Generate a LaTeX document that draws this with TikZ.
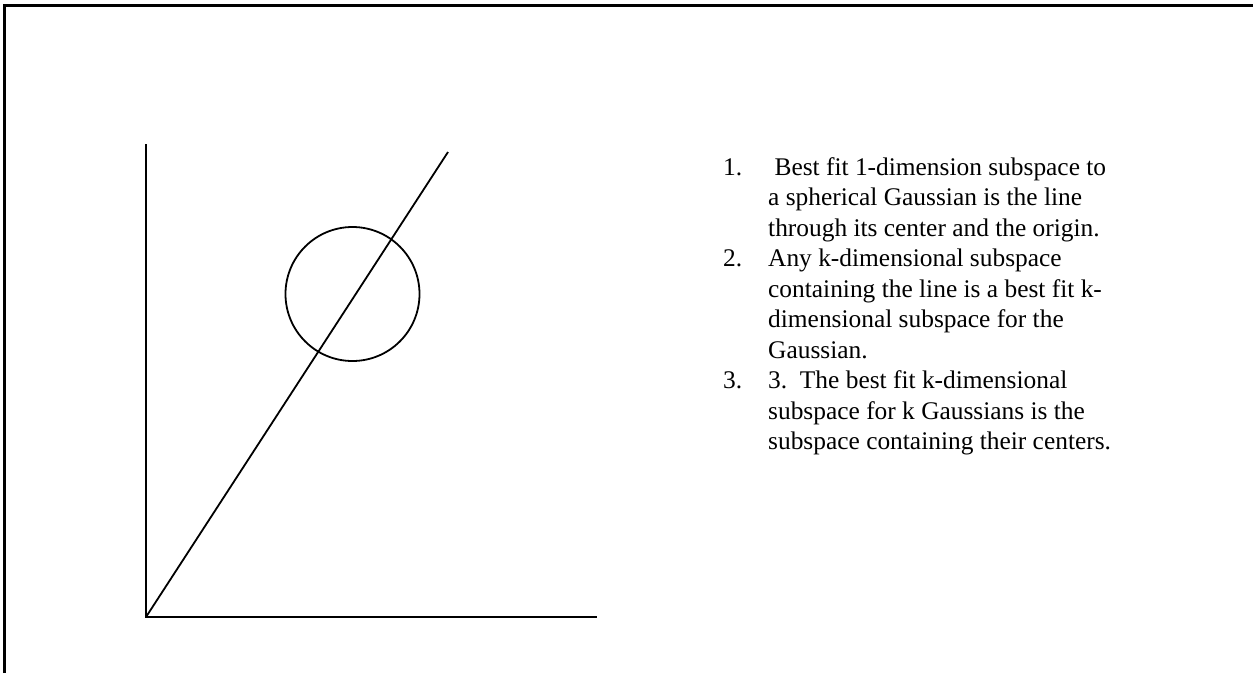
\documentclass[tikz,border=0pt]{standalone}
\usepackage{fontspec}
\setmainfont{Liberation Serif}
\begin{document}
\begin{tikzpicture}[x=1pt,y=-1pt,
  frame/.style={line width=2.2pt,black},
  axis/.style={line width=1.8pt,black},
  txt/.style={anchor=base west,inner sep=0pt,font=\fontsize{25.4}{30}\selectfont}]
\useasboundingbox (0,0) rectangle (1253,673);
% frame (top and left edges only)
\draw[frame] (4.5,673) -- (4.5,5.5) -- (1253,5.5);
% axes
\coordinate (O) at (146,617);
\coordinate (ytop) at (146,144);
\coordinate (xend) at (597,617);
\coordinate (dend) at (448,152);
\draw[axis] (ytop) -- (O) -- (xend);
\draw[axis] (O) -- (dend);
\node[draw,circle,line width=1.8pt,minimum size=134pt,inner sep=0pt] (gauss) at (352.5,294) {};
% list
\def\yA{175}
\def\dy{30.5}
\node[txt] (n1) at (723,\yA) {1.};
\node[txt] (l1) at (768,\yA) {\ Best fit 1-dimension subspace to};
\node[txt] (l2) at (768,\yA+\dy) {a spherical Gaussian is the line};
\node[txt] (l3) at (768,\yA+2*\dy) {through its center and the origin.};
\node[txt] (n2) at (723,\yA+3*\dy) {2.};
\node[txt] (l4) at (768,\yA+3*\dy) {Any k-dimensional subspace};
\node[txt] (l5) at (768,\yA+4*\dy) {containing the line is a best fit k-};
\node[txt] (l6) at (768,\yA+5*\dy) {dimensional subspace for the};
\node[txt] (l7) at (768,\yA+6*\dy) {Gaussian.};
\node[txt] (n3) at (723,\yA+7*\dy) {3.};
\node[txt] (l8) at (768,\yA+7*\dy) {3.\ \ The best fit k-dimensional};
\node[txt] (l9) at (768,\yA+8*\dy) {subspace for k Gaussians is the};
\node[txt] (l10) at (768,\yA+9*\dy) {subspace containing their centers.};
\end{tikzpicture}
\end{document}
